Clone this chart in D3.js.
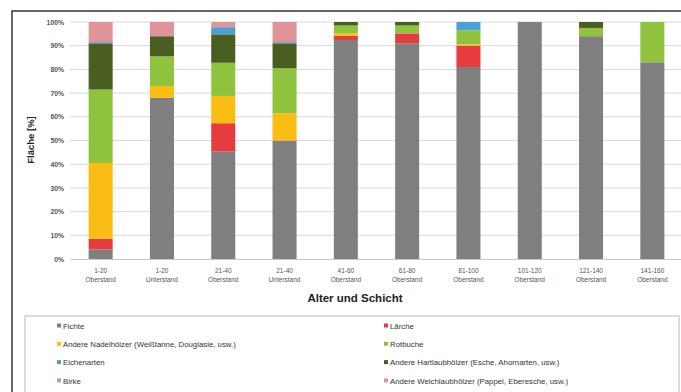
<!DOCTYPE html>
<html><head><meta charset="utf-8">
<script src="https://cdn.jsdelivr.net/npm/d3@7"></script>
<style>body{margin:0;background:#fff;}svg{display:block;font-family:"Liberation Sans",Arial,sans-serif;}</style>
</head><body><svg id="c" width="681" height="392"></svg>
<script>
const categories = ["1-20|Oberstand","1-20|Unterstand","21-40|Oberstand","21-40|Unterstand","41-60|Oberstand","61-80|Oberstand","81-100|Oberstand","101-120|Oberstand","121-140|Oberstand","141-160|Oberstand"];
const fichte      = [4, 68, 45.3, 50, 92.4, 91, 81, 100, 94, 83];
const laerche     = [4.5, 0, 12, 0, 1.8, 4.2, 9, 0, 0, 0];
const nadel       = [32, 5, 11.5, 11.5, 1, 0, 0.5, 0, 0, 0];
const rotbuche    = [31, 12.5, 14, 19, 3.3, 3.3, 6, 0, 3.5, 17];
const hartlaub    = [19.5, 8.5, 12, 10.5, 1.5, 1.5, 0, 0, 2.5, 0];
const eichen      = [0.5, 0, 3, 0.5, 0, 0, 3.5, 0, 0, 0];
const birke       = [0, 0, 0, 0, 0, 0, 0, 0, 0, 0];
const weichlaub   = [8.5, 6, 2.2, 8.5, 0, 0, 0, 0, 0, 0];
const yTicks = [0,10,20,30,40,50,60,70,80,90,100];

const seriesDefs = [
  {key:"Fichte", values:fichte, color:"#7f7f7f"},
  {key:"Lärche", values:laerche, color:"#e63c40"},
  {key:"Andere Nadelhölzer (Weißtanne, Douglasie, usw.)", values:nadel, color:"#fbbd14"},
  {key:"Rotbuche", values:rotbuche, color:"#8fc33e"},
  {key:"Andere Hartlaubhölzer (Esche, Ahornarten, usw.)", values:hartlaub, color:"#4a5e22"},
  {key:"Eichenarten", values:eichen, color:"#4aa0d4"},
  {key:"Birke", values:birke, color:"#ac9fcc"},
  {key:"Andere Weichlaubhölzer (Pappel, Eberesche, usw.)", values:weichlaub, color:"#df949a"}
];
const legendOrder = ["Fichte","Lärche","Andere Nadelhölzer (Weißtanne, Douglasie, usw.)","Rotbuche","Eichenarten","Andere Hartlaubhölzer (Esche, Ahornarten, usw.)","Birke","Andere Weichlaubhölzer (Pappel, Eberesche, usw.)"];

const table = categories.map((c,i)=>{const o={cat:c}; seriesDefs.forEach(s=>o[s.key]=s.values[i]); return o;});
const stack = d3.stack().keys(seriesDefs.map(s=>s.key))(table);

const svg = d3.select("#c");
// outer frame
svg.append("rect").attr("x",12).attr("y",11).attr("width",700).attr("height",420).attr("fill","#fff").attr("stroke","#333").attr("stroke-width",1.5);

const x = d3.scaleBand().domain(categories).range([70,683]).paddingInner(0.608).paddingOuter(0.304);
const y = d3.scaleLinear().domain([0,100]).range([259,22]);

// gridlines
svg.append("g").selectAll("line").data(yTicks.slice(1)).join("line")
  .attr("x1",70).attr("x2",681).attr("y1",d=>y(d)).attr("y2",d=>y(d))
  .attr("stroke","#d9d9d9").attr("stroke-width",1);

// bars
svg.append("g").selectAll("g").data(stack).join("g")
  .attr("fill",d=>seriesDefs.find(s=>s.key===d.key).color)
  .selectAll("rect").data(d=>d).join("rect")
  .attr("x",d=>x(d.data.cat)).attr("width",x.bandwidth())
  .attr("y",d=>y(Math.min(100,d[1]))).attr("height",d=>Math.max(0,y(d[0])-y(Math.min(100,d[1]))));

// x axis
const xAxis = svg.append("g").attr("transform","translate(0,259)")
  .call(d3.axisBottom(x).tickSize(0).tickFormat(""));
xAxis.select(".domain").attr("stroke","#c8c8c8");
xAxis.selectAll(".tick").each(function(d){
  const parts = d.split("|");
  const t = d3.select(this).append("text").attr("fill","#555").attr("font-size",6.5).attr("text-anchor","middle");
  t.append("tspan").attr("x",0).attr("y",14).text(parts[0]);
  t.append("tspan").attr("x",0).attr("y",23).text(parts[1]);
});

// y axis
const yAxis = svg.append("g").attr("transform","translate(68,0)")
  .call(d3.axisLeft(y).tickValues(yTicks).tickSize(0).tickPadding(4).tickFormat(d=>d+"%"));
yAxis.select(".domain").remove();
yAxis.selectAll("text").attr("fill","#555").attr("font-size",6.8).attr("font-weight","bold").attr("font-family","Liberation Sans, Arial, sans-serif");

// titles
svg.append("text").attr("x",355).attr("y",302).attr("text-anchor","middle").attr("font-size",11.5).attr("font-weight","bold").attr("fill","#222").text("Alter und Schicht");
svg.append("text").attr("transform","translate(34,140) rotate(-90)").attr("text-anchor","middle").attr("font-size",9.5).attr("font-weight","bold").attr("fill","#222").text("Fläche [%]");

// legend
svg.append("rect").attr("x",25).attr("y",316).attr("width",654).attr("height",90).attr("fill","#fff").attr("stroke","#bbb").attr("stroke-width",1);
const lg = svg.append("g");
legendOrder.forEach((k,i)=>{
  const s = seriesDefs.find(s=>s.key===k);
  const col = i%2, row = Math.floor(i/2);
  const lx = col===0 ? 57 : 384, ly = 326 + row*18.3;
  lg.append("rect").attr("x",lx).attr("y",ly-2.5).attr("width",4).attr("height",4).attr("fill",s.color);
  lg.append("text").attr("x",lx+6).attr("y",ly+2.6).attr("font-size",7.8).attr("fill","#333").text(k);
});
</script></body></html>
